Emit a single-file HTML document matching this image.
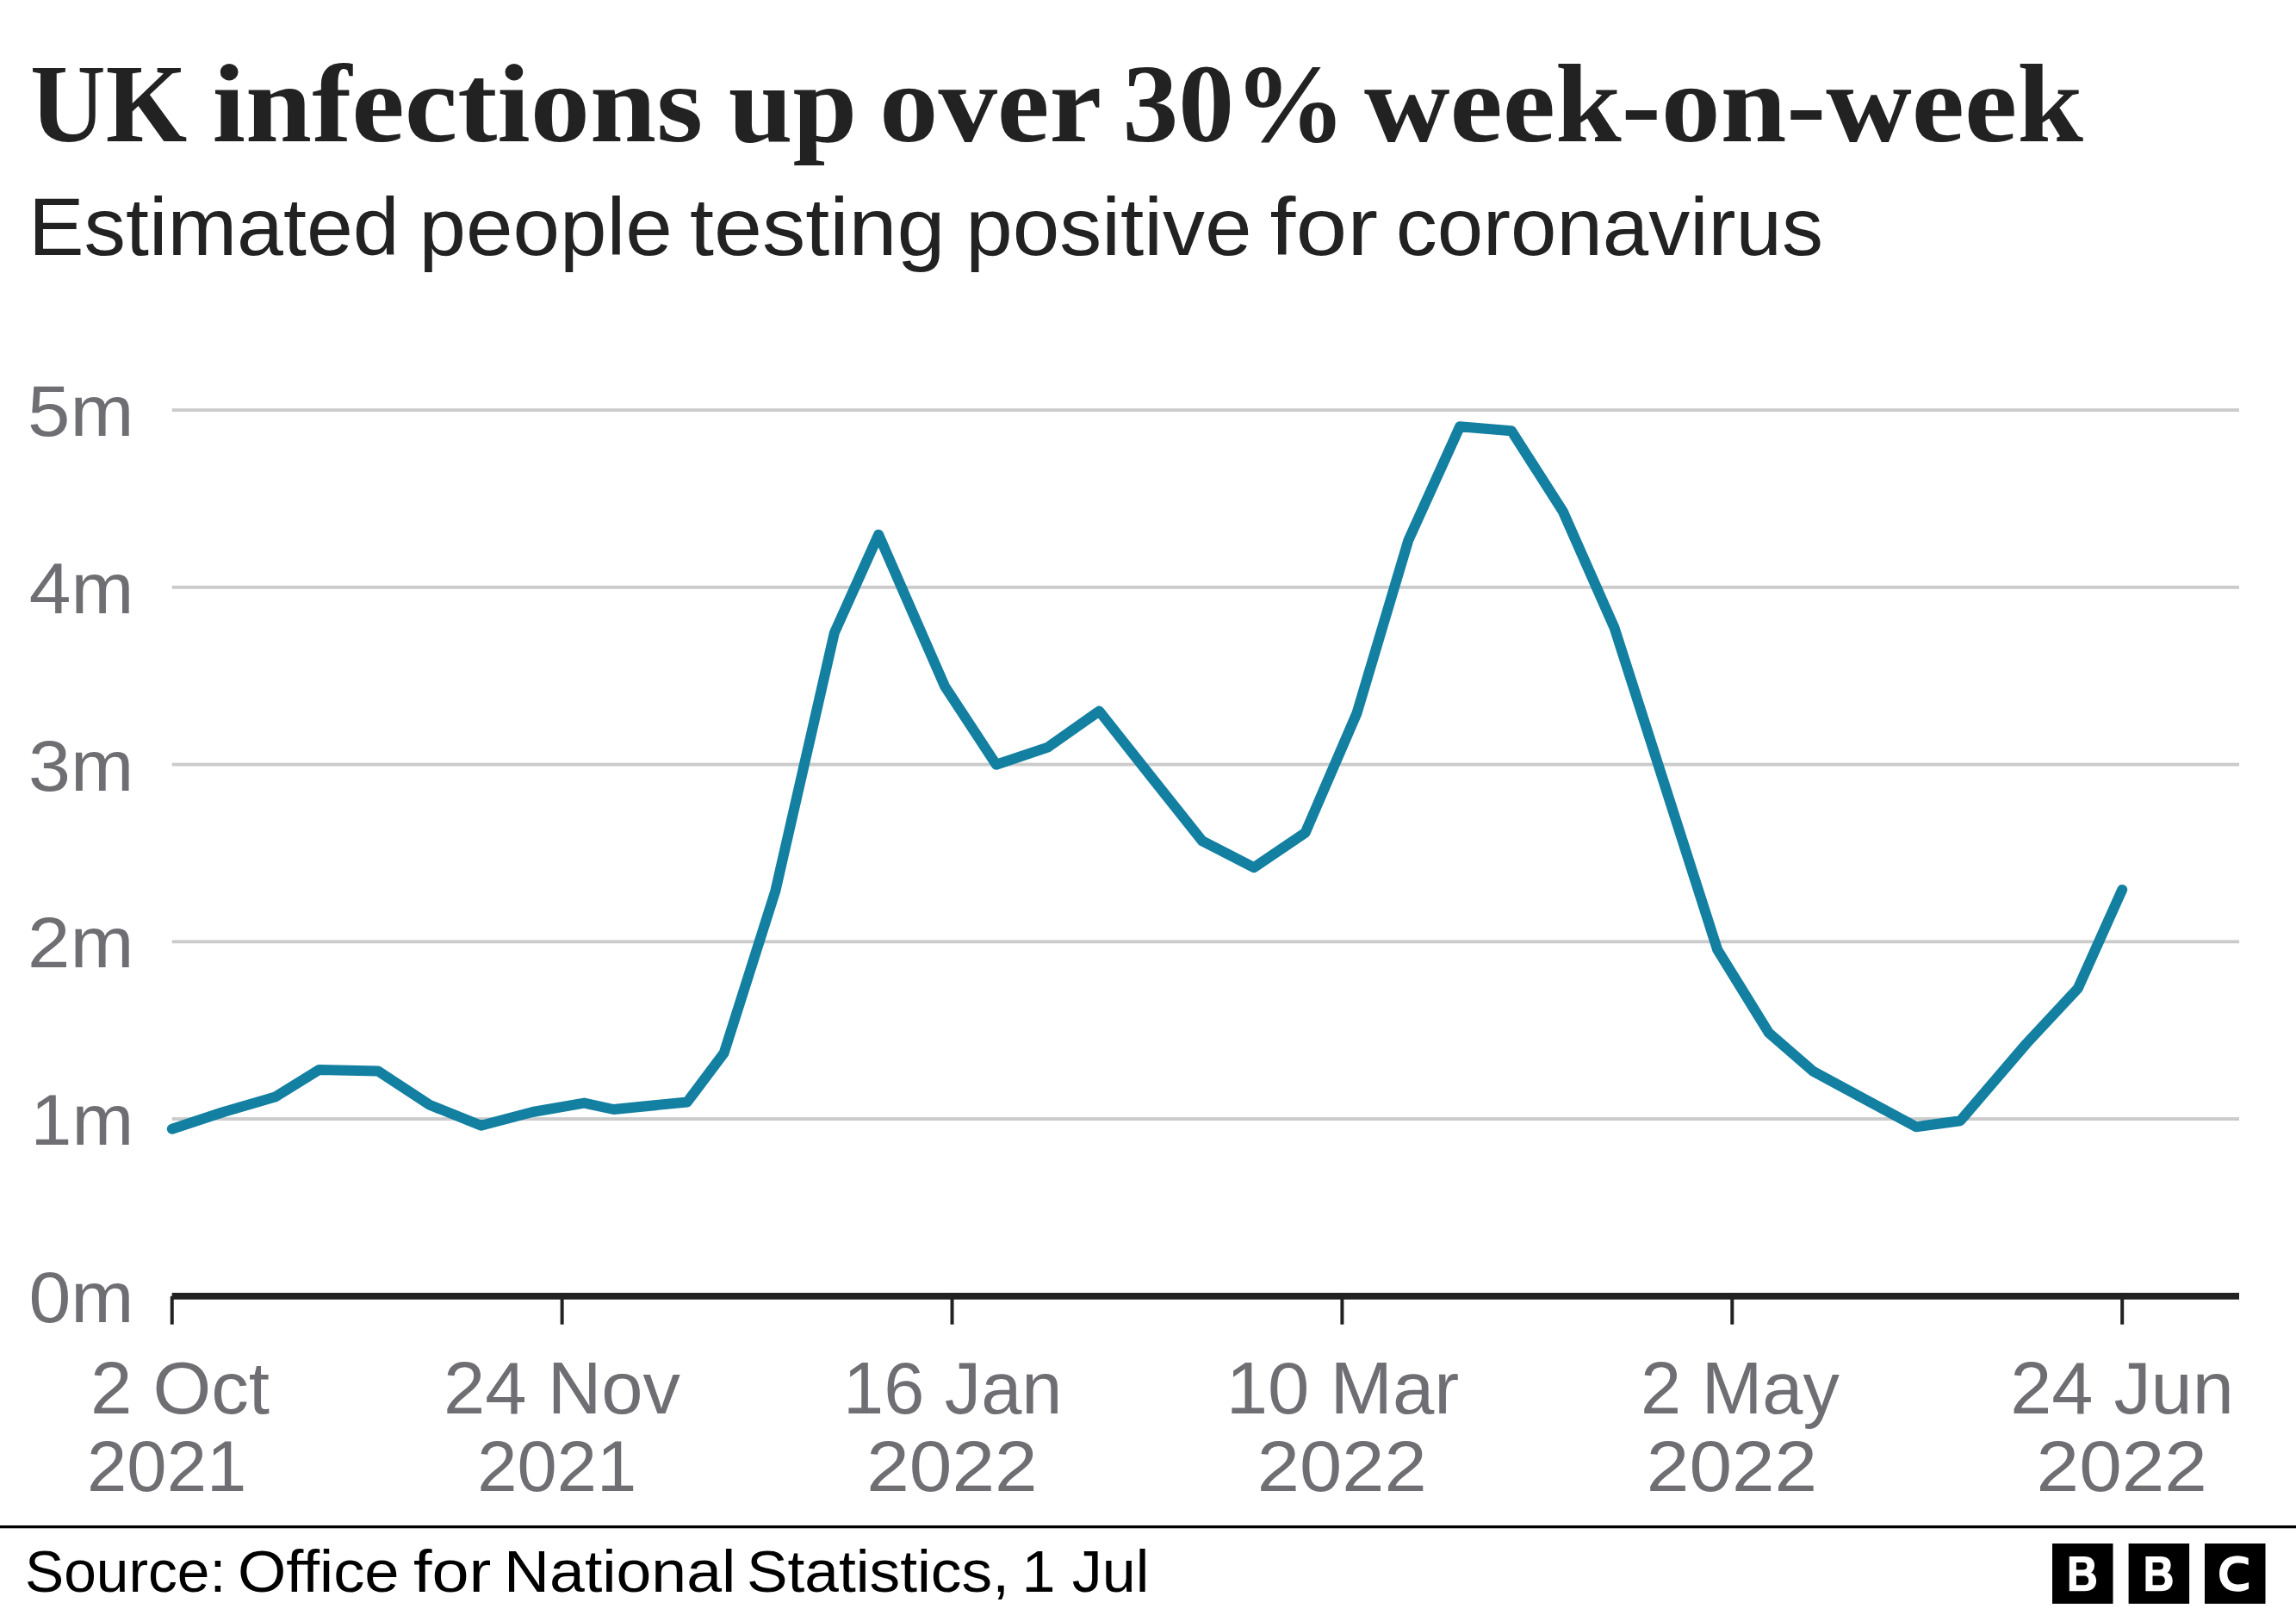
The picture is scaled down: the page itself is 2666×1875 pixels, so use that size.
<!DOCTYPE html>
<html><head><meta charset="utf-8"><title>UK infections</title>
<style>
html,body{margin:0;padding:0;background:#fff;}
body{width:2666px;height:1875px;overflow:hidden;}
svg{display:block;}
text{font-family:"Liberation Sans",sans-serif;}
.ax{font-size:83.5px;fill:#6e6e73;}
.ax2{font-size:84.5px;fill:#6e6e73;}
.title{font-family:"Liberation Serif",serif;font-weight:bold;font-size:130px;fill:#222;}
.sub{font-size:94px;fill:#222;}
.src{font-size:69px;fill:#000;}
</style></head><body>
<svg width="2666" height="1875" viewBox="0 0 2666 1875">
<rect width="2666" height="1875" fill="#fff"/>
<rect x="199.7" y="474.18" width="2400.3" height="3.84" fill="#cbcbcb"/><rect x="199.7" y="679.92" width="2400.3" height="3.84" fill="#cbcbcb"/><rect x="199.7" y="885.66" width="2400.3" height="3.84" fill="#cbcbcb"/><rect x="199.7" y="1091.40" width="2400.3" height="3.84" fill="#cbcbcb"/><rect x="199.7" y="1297.14" width="2400.3" height="3.84" fill="#cbcbcb"/>
<polyline points="199.8,1310.7 259.6,1291.0 319.4,1273.6 370.7,1241.9 439.0,1243.5 498.8,1282.7 558.6,1306.7 618.5,1291.0 678.3,1280.6 712.5,1288.0 797.9,1279.5 840.6,1222.7 900.4,1034.2 968.8,734.9 1020.1,620.7 1097.0,796.7 1156.8,887.7 1216.6,867.6 1276.4,825.6 1336.2,901.2 1396.1,976.4 1455.9,1007.2 1515.7,966.7 1575.5,828.0 1635.3,627.4 1695.1,495.3 1755.0,500.2 1814.8,593.8 1874.6,729.0 1934.4,915.9 1994.2,1102.7 2054.0,1199.3 2105.3,1243.8 2224.9,1308.3 2276.2,1301.2 2353.1,1211.5 2412.9,1147.3 2464.2,1032.9" fill="none" stroke="#1380a1" stroke-width="12" stroke-linecap="round" stroke-linejoin="round"/>
<rect x="199.7" y="1500.9" width="2400.3" height="7.8" fill="#222"/>
<rect x="197.75" y="1504.8" width="4" height="32.9" fill="#222"/><rect x="650.64" y="1504.8" width="4" height="32.9" fill="#222"/><rect x="1103.53" y="1504.8" width="4" height="32.9" fill="#222"/><rect x="1556.42" y="1504.8" width="4" height="32.9" fill="#222"/><rect x="2009.31" y="1504.8" width="4" height="32.9" fill="#222"/><rect x="2462.20" y="1504.8" width="4" height="32.9" fill="#222"/>
<text class="title"><tspan x="35.1" y="164.1" textLength="182.2" lengthAdjust="spacingAndGlyphs">UK</tspan> <tspan x="246.6" y="164.1" textLength="569.5" lengthAdjust="spacingAndGlyphs">infections</tspan> <tspan x="845.7" y="164.1" textLength="149.4" lengthAdjust="spacingAndGlyphs">up</tspan> <tspan x="1021.0" y="164.1" textLength="255.8" lengthAdjust="spacingAndGlyphs">over</tspan> <tspan x="1303.4" y="164.1" textLength="259.3" lengthAdjust="spacingAndGlyphs">30%</tspan> <tspan x="1584.0" y="164.1" textLength="835.0" lengthAdjust="spacingAndGlyphs">week-on-week</tspan></text>
<text class="sub"><tspan x="33.0" y="295.6" textLength="430.6" lengthAdjust="spacingAndGlyphs">Estimated</tspan> <tspan x="486.4" y="295.6" textLength="294.3" lengthAdjust="spacingAndGlyphs">people</tspan> <tspan x="801.1" y="295.6" textLength="296.3" lengthAdjust="spacingAndGlyphs">testing</tspan> <tspan x="1121.3" y="295.6" textLength="332.3" lengthAdjust="spacingAndGlyphs">positive</tspan> <tspan x="1474.6" y="295.6" textLength="125.4" lengthAdjust="spacingAndGlyphs">for</tspan> <tspan x="1620.7" y="295.6" textLength="496.2" lengthAdjust="spacingAndGlyphs">coronavirus</tspan></text>
<text class="src"><tspan x="29.1" y="1848.2" textLength="233.1" lengthAdjust="spacingAndGlyphs">Source:</tspan> <tspan x="275.9" y="1848.2" textLength="187.7" lengthAdjust="spacingAndGlyphs">Office</tspan> <tspan x="479.9" y="1848.2" textLength="90.4" lengthAdjust="spacingAndGlyphs">for</tspan> <tspan x="585.1" y="1848.2" textLength="269.2" lengthAdjust="spacingAndGlyphs">National</tspan> <tspan x="866.9" y="1848.2" textLength="305.1" lengthAdjust="spacingAndGlyphs">Statistics,</tspan> <tspan x="1186.4" y="1848.2" textLength="148.0" lengthAdjust="spacingAndGlyphs">1 Jul</tspan></text>
<text class="ax"><tspan x="32.0" y="506.2" textLength="123.4" lengthAdjust="spacingAndGlyphs">5m</tspan></text>
<text class="ax"><tspan x="33.8" y="711.9" textLength="121.5" lengthAdjust="spacingAndGlyphs">4m</tspan></text>
<text class="ax"><tspan x="33.1" y="917.7" textLength="122.2" lengthAdjust="spacingAndGlyphs">3m</tspan></text>
<text class="ax"><tspan x="32.0" y="1123.4" textLength="123.4" lengthAdjust="spacingAndGlyphs">2m</tspan></text>
<text class="ax"><tspan x="35.6" y="1329.2" textLength="119.6" lengthAdjust="spacingAndGlyphs">1m</tspan></text>
<text class="ax"><tspan x="33.4" y="1534.9" textLength="122.0" lengthAdjust="spacingAndGlyphs">0m</tspan></text>
<text class="ax"><tspan class="ax2" x="104.9" y="1640.9" textLength="208.2" lengthAdjust="spacingAndGlyphs">2 Oct</tspan> <tspan x="101.1" y="1730.7" textLength="185.1" lengthAdjust="spacingAndGlyphs">2021</tspan></text>
<text class="ax"><tspan class="ax2" x="515.0" y="1640.9" textLength="275.0" lengthAdjust="spacingAndGlyphs">24 Nov</tspan> <tspan x="554.3" y="1730.7" textLength="184.8" lengthAdjust="spacingAndGlyphs">2021</tspan></text>
<text class="ax"><tspan class="ax2" x="979.0" y="1640.9" textLength="254.5" lengthAdjust="spacingAndGlyphs">16 Jan</tspan> <tspan x="1006.2" y="1730.7" textLength="198.4" lengthAdjust="spacingAndGlyphs">2022</tspan></text>
<text class="ax"><tspan class="ax2" x="1423.8" y="1640.9" textLength="270.4" lengthAdjust="spacingAndGlyphs">10 Mar</tspan> <tspan x="1459.8" y="1730.7" textLength="196.8" lengthAdjust="spacingAndGlyphs">2022</tspan></text>
<text class="ax"><tspan class="ax2" x="1905.0" y="1640.9" textLength="230.8" lengthAdjust="spacingAndGlyphs">2 May</tspan> <tspan x="1911.8" y="1730.7" textLength="198.4" lengthAdjust="spacingAndGlyphs">2022</tspan></text>
<text class="ax"><tspan class="ax2" x="2334.2" y="1640.9" textLength="259.6" lengthAdjust="spacingAndGlyphs">24 Jun</tspan> <tspan x="2364.6" y="1730.7" textLength="198.3" lengthAdjust="spacingAndGlyphs">2022</tspan></text>

<rect x="0" y="1771" width="2666" height="3.3" fill="#000"/>
<g transform="translate(2383,1792)"><rect width="70.5" height="69.9" fill="#000"/><path d="M19.8 14.9H37C45 14.9 49 19 49 25.2C49 29.5 47.3 32.2 45 33.8C48.8 35.3 51.1 38.6 51.1 43.6C51.1 51 46 55.3 37.5 55.3H19.8ZM27.9 22.1V30.6H35.5C38.8 30.6 40.4 28.9 40.4 26.3C40.4 23.8 39.2 22.1 36 22.1ZM27.9 37.6V48.35H36.3C40.2 48.35 42.2 46.4 42.2 42.9C42.2 39.6 40.3 37.6 36.5 37.6Z" fill="#fff" fill-rule="evenodd"/></g>
<g transform="translate(2471.6,1792)"><rect width="70.5" height="69.9" fill="#000"/><path d="M19.8 14.9H37C45 14.9 49 19 49 25.2C49 29.5 47.3 32.2 45 33.8C48.8 35.3 51.1 38.6 51.1 43.6C51.1 51 46 55.3 37.5 55.3H19.8ZM27.9 22.1V30.6H35.5C38.8 30.6 40.4 28.9 40.4 26.3C40.4 23.8 39.2 22.1 36 22.1ZM27.9 37.6V48.35H36.3C40.2 48.35 42.2 46.4 42.2 42.9C42.2 39.6 40.3 37.6 36.5 37.6Z" fill="#fff" fill-rule="evenodd"/></g>
<g transform="translate(2560,1792)"><rect width="70.5" height="69.9" fill="#000"/><path d="M50.7 16.9C46.5 15.2 42 14.3 37.5 14.3C25 14.3 17 22.8 17 35C17 47.3 25 55.75 37.5 55.75C42.5 55.75 47 54.6 51.1 52.4V45C47.3 46.7 43 47.4 38.5 47.4C30.8 47.4 26.3 42.6 26.3 35C26.3 27.4 30.8 22.4 38.5 22.4C43 22.4 47 23.2 50.7 24.9Z" fill="#fff" fill-rule="evenodd"/></g>

</svg>
</body></html>
